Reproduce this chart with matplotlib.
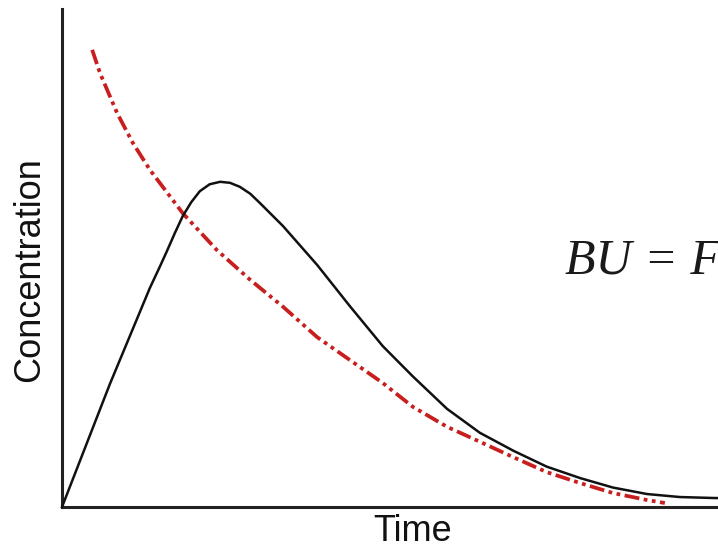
import matplotlib
matplotlib.use("Agg")
import matplotlib.pyplot as plt

# Data (arbitrary units)
plasma_x = [0, 0.73, 1.34, 1.50, 1.60, 1.72, 1.84, 1.97, 2.10, 2.25, 2.41, 2.56, 2.71, 2.87,
            3.02, 3.37, 3.89, 4.39, 4.89, 5.35, 5.87, 6.37, 6.88, 7.39, 7.90, 8.40, 8.92,
            9.42, 9.95, 10.0]
plasma_y = [0, 2.47, 4.40, 4.85, 5.14, 5.50, 5.84, 6.12, 6.34, 6.48, 6.53, 6.51, 6.43, 6.29,
            6.10, 5.64, 4.86, 4.03, 3.23, 2.62, 1.97, 1.49, 1.13, 0.81, 0.58, 0.39, 0.26,
            0.20, 0.18, 0.18]

iv_x = [0.46, 0.58, 0.84, 1.08, 1.34, 1.84, 2.36, 2.87, 3.37, 3.89, 4.39, 4.89, 5.35,
        5.87, 6.37, 6.88, 7.39, 7.90, 8.40, 8.92, 9.19]
iv_y = [9.18, 8.71, 7.91, 7.31, 6.77, 5.90, 5.16, 4.56, 4.02, 3.41, 2.95, 2.49, 2.01,
        1.61, 1.31, 1.00, 0.70, 0.48, 0.28, 0.14, 0.08]

x_label = "Time"
y_label = "Concentration"
formula = "BU = F"

W, H = 718, 549
fig = plt.figure(figsize=(W / 100, H / 100), dpi=100)
ax = fig.add_axes([62 / W, (H - 507) / H, (W - 62) / W, (507 - 9) / H])
ax.set_xlim(0, 10)
ax.set_ylim(0, 10)

ax.plot(iv_x, iv_y, color='#c81e1e', lw=2.7, dash_capstyle='butt',
        linestyle=(0, (4, 1.2, 1, 1.2, 1, 1.2)), zorder=2)
ax.plot(plasma_x, plasma_y, color='#111111', lw=1.8, solid_joinstyle='round', zorder=3,
        clip_on=False)

for s in ['top', 'right']:
    ax.spines[s].set_visible(False)
for s in ['left', 'bottom']:
    ax.spines[s].set_color('#222222')
    ax.spines[s].set_linewidth(2.2)
ax.set_xticks([])
ax.set_yticks([])

fig.text(413 / W, (H - 541) / H, x_label, ha='center', va='baseline',
         fontsize=26, family='Liberation Sans', color='#111111')
fig.text(30 / W, (H - 270) / H, y_label, ha='center', va='center', rotation=90,
         fontsize=26, family='Liberation Sans', color='#111111')
fig.text(565 / W, (H - 273) / H, formula, ha='left', va='baseline',
         fontsize=36, family='Liberation Serif', style='italic', color='#1a1a1a')

fig.savefig("out.png", dpi=100)
